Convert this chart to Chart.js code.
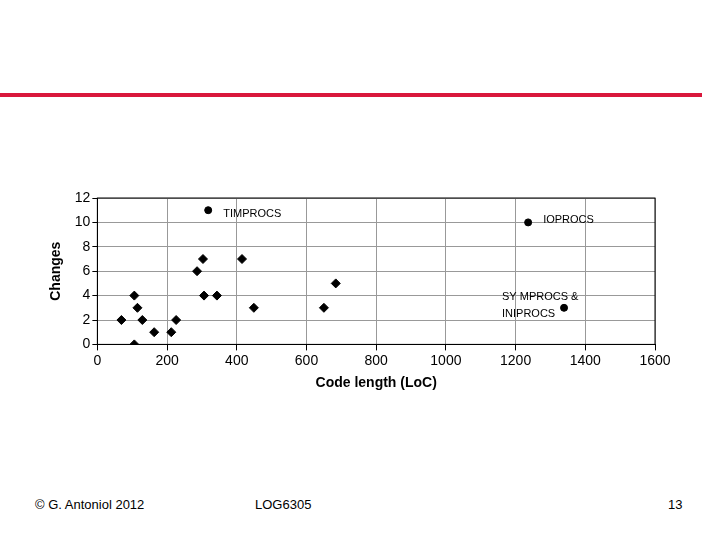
<!DOCTYPE html>
<html><head><meta charset="utf-8">
<script src="https://cdn.jsdelivr.net/npm/chart.js@4"></script>
<style>
body{margin:0;width:720px;height:540px;background:#fff;position:relative;overflow:hidden;font-family:"Liberation Sans",Arial,sans-serif}
#bar{position:absolute;left:0;top:93px;width:702px;height:4px;background:#d9183c}
.f{position:absolute;top:497px;font-size:13px;color:#000}
#wrap{position:absolute;left:40px;top:180px;width:640px;height:220px}
</style></head><body>
<div id="bar"></div>
<div class="f" style="left:35px">© G. Antoniol 2012</div>
<div class="f" style="left:255px">LOG6305</div>
<div class="f" style="left:668px">13</div>
<div id="wrap"><canvas id="c"></canvas></div>
<script>
const diamondX=[69,106,115,129,106,163,212,226,286,303,306,343,415,449,650,684];
const diamondY=[2,4,3,2,0,1,1,2,6,7,4,4,7,3,3,5];
const circleX=[318,1236,1339];
const circleY=[11,10,3];
const circleLabels=[["TIMPROCS"],["IOPROCS"],["SY MPROCS &","INIPROCS"]];
const xTicks=[0,200,400,600,800,1000,1200,1400,1600];
const yTicks=[0,2,4,6,8,10,12];
const labelOffsets=[[15,4],[15,-2],[-62,-11]];
const labelPlugin={id:'lbl',afterDatasetsDraw(ch){
  const c=ch.ctx,m=ch.getDatasetMeta(1);c.save();c.font='11px "Liberation Sans"';c.fillStyle='#000';c.textBaseline='middle';
  m.data.forEach((p,i)=>{circleLabels[i].forEach((t,j)=>c.fillText(t,p.x+labelOffsets[i][0],p.y+labelOffsets[i][1]+j*17));});
  const a=ch.chartArea;c.strokeStyle='#000';c.lineWidth=1;c.strokeRect(a.left,a.top,a.right-a.left,a.bottom-a.top);c.restore();}};
new Chart(document.getElementById('c'),{type:'scatter',
 data:{datasets:[
  {data:diamondX.map((x,i)=>({x,y:diamondY[i]})),pointStyle:'rectRot',radius:4.5,backgroundColor:'#000',borderColor:'#000'},
  {data:circleX.map((x,i)=>({x,y:circleY[i]})),pointStyle:'circle',radius:3.5,backgroundColor:'#000',borderColor:'#000'}]},
 options:{animation:false,responsive:true,maintainAspectRatio:false,layout:{padding:{top:18,right:25,left:4,bottom:4}},
  plugins:{legend:{display:false},tooltip:{enabled:false}},
  scales:{
   x:{type:'linear',min:0,max:1600,afterBuildTicks:s=>{s.ticks=xTicks.map(v=>({value:v}));},
      grid:{color:'#999',tickLength:6,tickColor:'#000'},border:{color:'#000'},
      ticks:{color:'#000',font:{size:14,family:'"Liberation Sans"'},padding:2,maxRotation:0,callback:v=>String(v)},
      title:{display:true,text:'Code length (LoC)',color:'#000',font:{size:14,weight:'bold',family:'"Liberation Sans"'},padding:{top:4}}},
   y:{min:0,max:12,afterBuildTicks:s=>{s.ticks=yTicks.map(v=>({value:v}));},
      grid:{color:'#999',tickLength:5,tickColor:'#000'},border:{color:'#000'},
      ticks:{color:'#000',font:{size:14,family:'"Liberation Sans"'},padding:2,callback:v=>String(v)},
      title:{display:true,text:'Changes',color:'#000',font:{size:14,weight:'bold',family:'"Liberation Sans"'},padding:{bottom:8}}}}},
 plugins:[labelPlugin]});
</script></body></html>
